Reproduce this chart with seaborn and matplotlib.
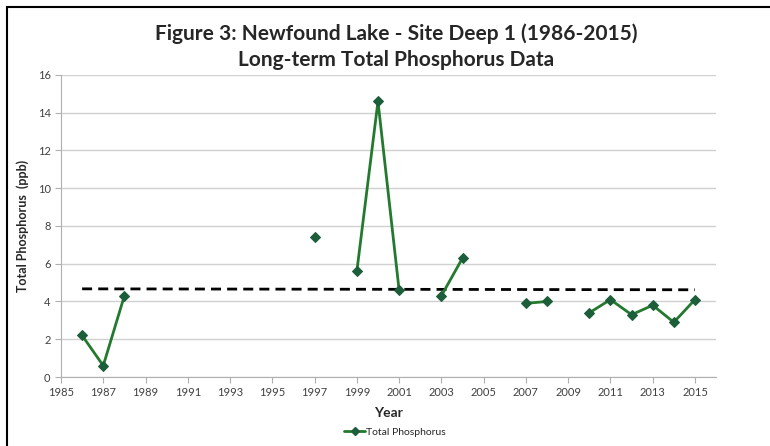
import numpy as np
import pandas as pd
import matplotlib.pyplot as plt
import seaborn as sns
from matplotlib.lines import Line2D
from matplotlib.patches import Rectangle

# Data
years = [1986, 1987, 1988, 1997, 1999, 2000, 2001, 2003, 2004,
         2007, 2008, 2010, 2011, 2012, 2013, 2014, 2015]
phosphorus = [2.2, 0.6, 4.3, 7.4, 5.6, 14.6, 4.6, 4.3, 6.3,
              3.9, 4.0, 3.4, 4.1, 3.3, 3.8, 2.9, 4.1]
trend_years = [1986, 2015]
trend_values = [4.67, 4.62]

# split into runs of consecutive years so the line breaks at gaps
segment = np.cumsum(np.r_[1, np.diff(years) > 1])
df = pd.DataFrame({'Year': years, 'TP': phosphorus, 'seg': segment})

sns.set_style('white')
plt.rcParams['font.family'] = ['Lato', 'DejaVu Sans']

line_col = '#237a2e'
mark_col = '#1d5e3a'

fig = plt.figure(figsize=(7.7, 4.46), dpi=100)
ax = fig.add_axes([0.0792, 0.1547, 0.8508, 0.6773])

sns.lineplot(data=df, x='Year', y='TP', units='seg', estimator=None,
             color=line_col, linewidth=2, marker='D', markersize=5.5,
             markerfacecolor=mark_col, markeredgecolor=mark_col, ax=ax, legend=False)
ax.plot(trend_years, trend_values, color='black', linestyle=(0, (3.6, 2.2)), linewidth=2, zorder=1)

ax.set_xlim(1985, 2016)
ax.set_ylim(0, 16)
ax.set_xticks(range(1985, 2016, 2))
ax.set_yticks(range(0, 17, 2))
ax.yaxis.grid(True, color='#d0d0d0', linewidth=1)
ax.xaxis.grid(False)
for side in ['top', 'right']:
    ax.spines[side].set_visible(False)
for side in ['left', 'bottom']:
    ax.spines[side].set_color('#b0b0b0')
ax.tick_params(axis='both', length=4, color='#b0b0b0', labelsize=8, labelcolor='#404040',
               direction='out', bottom=True, left=True)

ax.set_xlabel('Year', fontsize=10, fontweight='bold', labelpad=6)
ax.set_ylabel('Total Phosphorus  (ppb)', fontsize=9, fontweight='bold', labelpad=6)

fig.text(0.514, 0.925, 'Figure 3: Newfound Lake - Site Deep 1 (1986-2015)',
         ha='center', va='center', fontsize=15, fontweight='bold')
fig.text(0.514, 0.865, 'Long-term Total Phosphorus Data',
         ha='center', va='center', fontsize=15, fontweight='bold')

handle = Line2D([], [], color=line_col, linewidth=2, marker='D', markersize=4,
                markerfacecolor=mark_col, markeredgecolor=mark_col)
fig.legend([handle], ['Total Phosphorus'], loc='center', bbox_to_anchor=(0.513, 0.031),
           frameon=False, fontsize=7.5, handlelength=2, handletextpad=0.1)

fig.patches.append(Rectangle((7 / 770, -0.1), 1.2, (446 - 7) / 446 + 0.1,
                             transform=fig.transFigure, fill=False,
                             edgecolor='black', linewidth=1.5))

fig.savefig('out.png', dpi=100)
